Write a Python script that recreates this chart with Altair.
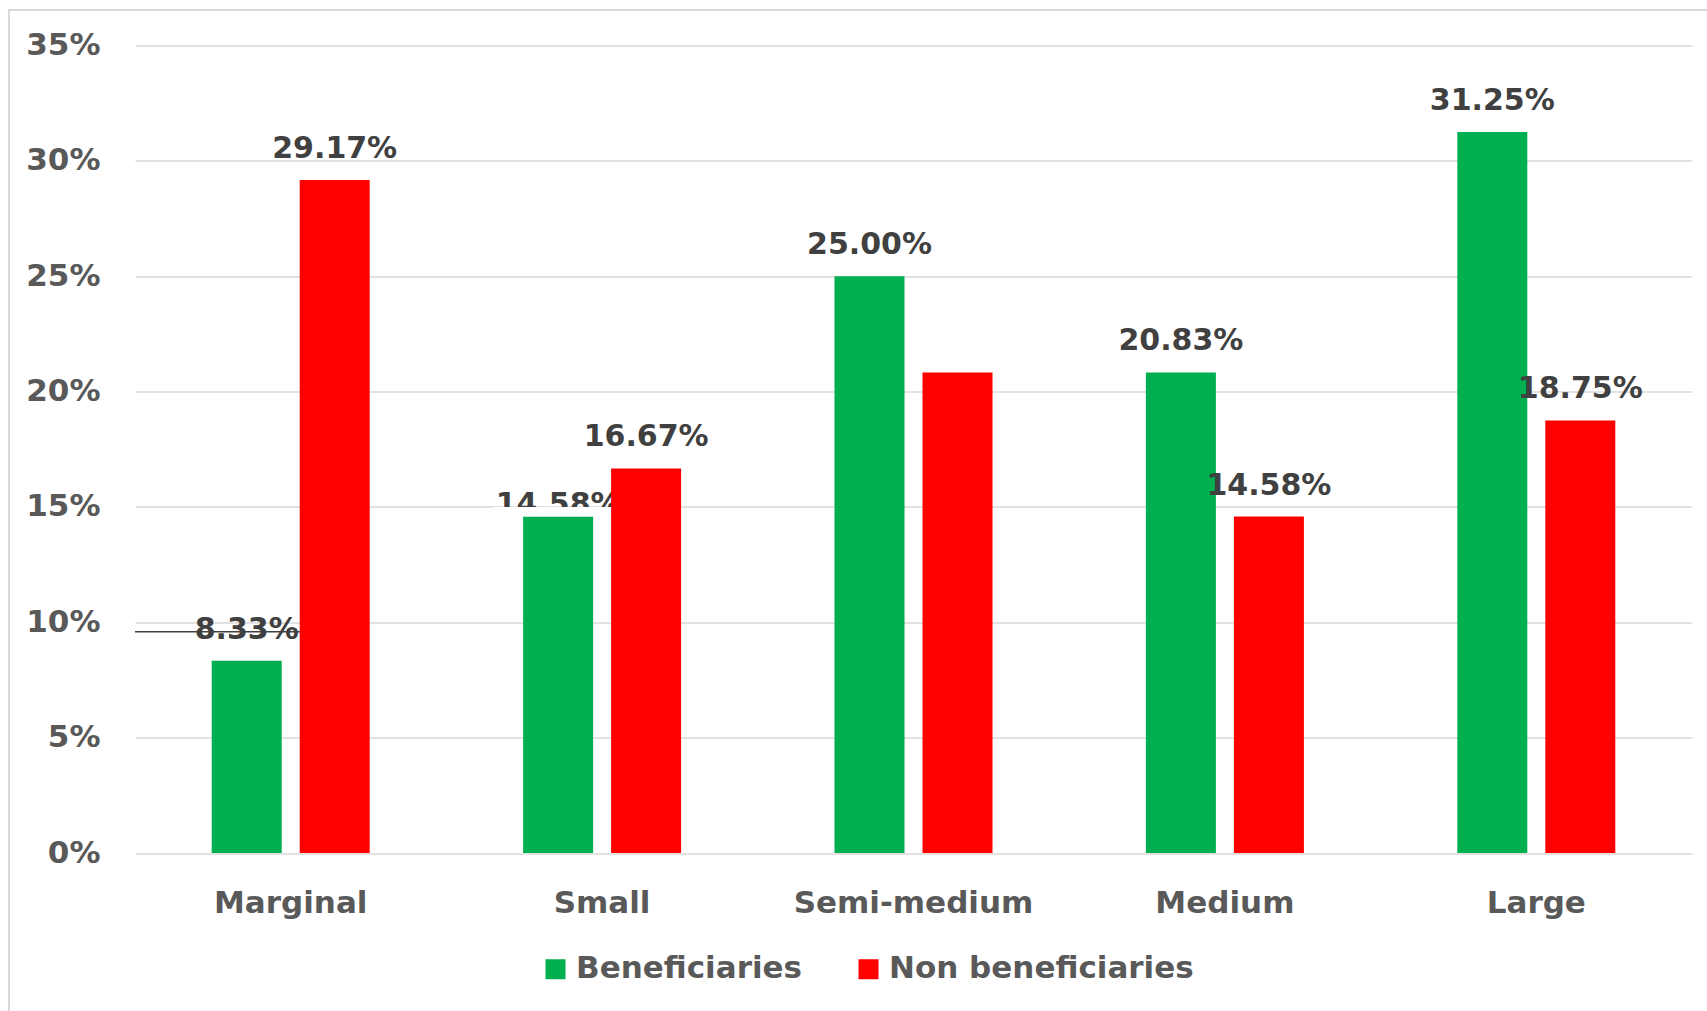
import altair as alt
import pandas as pd

# Share of farmers by holding size
categories = ["Marginal", "Small", "Semi-medium", "Medium", "Large"]
groups = ["Beneficiaries", "Non beneficiaries"]
beneficiaries = [8.33, 14.58, 25.00, 20.83, 31.25]
non_beneficiaries = [29.17, 16.67, 20.83, 14.58, 18.75]
y_ticks = [0, 5, 10, 15, 20, 25, 30, 35]
group_colors = ["#00B050", "#FF0000"]

rows = []
for i, cat in enumerate(categories):
    rows.append({"cat": cat, "group": groups[0], "value": beneficiaries[i]})
    rows.append({"cat": cat, "group": groups[1], "value": non_beneficiaries[i]})
df = pd.DataFrame(rows)

FONT = "DejaVu Sans"
AXIS_GRAY = "#595959"
LABEL_GRAY = "#404040"
GRID = "#D9D9D9"

x_enc = alt.X(
    "cat:N",
    sort=categories,
    scale=alt.Scale(paddingInner=0.4926, paddingOuter=0.2463),
    axis=alt.Axis(
        title=None, labelAngle=0, ticks=False, domain=False, grid=False,
        labelFont=FONT, labelFontWeight="bold", labelFontSize=31,
        labelColor=AXIS_GRAY, labelBaseline="alphabetic", labelPadding=59,
        labelLimit=0,
    ),
)
xoff_enc = alt.XOffset(
    "group:N", sort=groups, scale=alt.Scale(paddingInner=0.2045, paddingOuter=0)
)
y_enc = alt.Y(
    "value:Q",
    scale=alt.Scale(domain=[0, 35], nice=False),
    axis=alt.Axis(
        title=None, values=y_ticks, labelExpr="datum.value + '%'",
        ticks=False, domain=False, grid=True, gridColor=GRID, gridWidth=1.5,
        labelFont=FONT, labelFontWeight="bold", labelFontSize=31,
        labelColor=AXIS_GRAY, labelPadding=35,
    ),
)
color_enc = alt.Color(
    "group:N",
    sort=groups,
    scale=alt.Scale(domain=groups, range=group_colors),
    legend=alt.Legend(
        title=None, orient="none", direction="horizontal",
        legendX=405, legendY=908,
        symbolType="square", symbolSize=400, symbolStrokeWidth=0,
        labelFont=FONT, labelFontWeight="bold", labelFontSize=31,
        labelColor=AXIS_GRAY, labelOffset=5, columnPadding=50,
        labelLimit=0,
    ),
)

base = alt.Chart(df).transform_calculate(
    label="format(datum.value, '.2f') + '%'"
)
is_ben = alt.datum.group == groups[0]
is_non = alt.datum.group == groups[1]

# outer chart frame
frame = alt.Chart(pd.DataFrame({"k": [0]})).mark_rect(
    fillOpacity=0, stroke=GRID, strokeWidth=2
).encode(
    x=alt.value(-126), x2=alt.value(1700),
    y=alt.value(-35.5), y2=alt.value(1100),
)

green_bars = base.transform_filter(is_ben).mark_bar().encode(
    x=x_enc, xOffset=xoff_enc, y=y_enc, color=color_enc
)

text_style = dict(
    font=FONT, fontWeight="bold", fontSize=30, color=LABEL_GRAY,
    baseline="alphabetic", align="center",
)

green_labels = base.transform_filter(is_ben).transform_filter(
    alt.datum.cat != "Small"
).mark_text(dy=-22, **text_style).encode(
    x=x_enc, xOffset=xoff_enc, y=y_enc, text="label:N"
)

small_label = base.transform_filter(is_ben).transform_filter(
    alt.datum.cat == "Small"
).mark_text(dy=-3, **text_style).encode(
    x=x_enc, xOffset=xoff_enc, y=y_enc, text="label:N"
)

# blank band between the Small bar top and the 15% gridline
small_cover = base.transform_filter(is_ben).transform_filter(
    alt.datum.cat == "Small"
).mark_bar(color="white", width=130).encode(
    x=x_enc, xOffset=xoff_enc, y=y_enc, y2=alt.Y2(datum=15)
)

# leader line of the Marginal label
leader = base.transform_filter(is_ben).transform_filter(
    alt.datum.cat == "Marginal"
).mark_rule(color=LABEL_GRAY, strokeWidth=1.5, yOffset=-29).encode(
    x=alt.X("cat:N", sort=categories, bandPosition=0.8),
    x2=alt.value(0),
    y=y_enc,
)

red_bars = base.transform_filter(is_non).mark_bar().encode(
    x=x_enc, xOffset=xoff_enc, y=y_enc, color=color_enc
)

red_labels = base.transform_filter(is_non).transform_filter(
    alt.datum.cat != "Semi-medium"
).mark_text(dy=-22, **text_style).encode(
    x=x_enc, xOffset=xoff_enc, y=y_enc, text="label:N"
)

chart = alt.layer(
    frame, green_bars, green_labels, small_label, small_cover,
    leader, red_bars, red_labels,
).properties(
    width=1557,
    height=807.5,
    autosize=alt.AutoSizeParams(type="none"),
    padding={"left": 135, "top": 45.5, "right": 15, "bottom": 158},
    background="white",
).configure_view(stroke=None)

chart.save("out.html", embed_options={"renderer": "svg", "actions": False})
